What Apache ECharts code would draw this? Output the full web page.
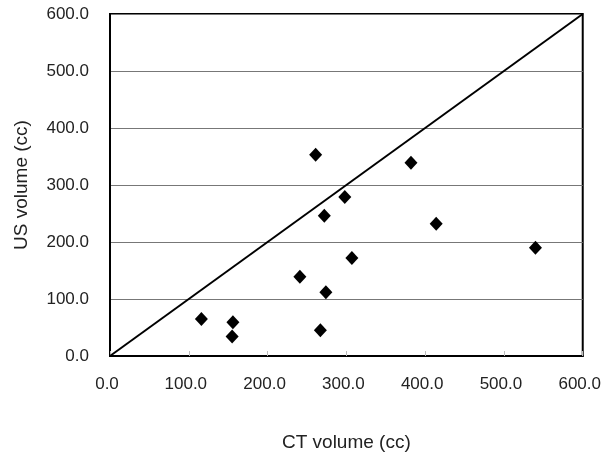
<!DOCTYPE html>
<html><head><meta charset="utf-8">
<script src="https://cdn.jsdelivr.net/npm/echarts@6/dist/echarts.min.js"></script>
<style>html,body{margin:0;padding:0;background:#fff}#c{width:604px;height:457px}</style>
</head><body><div id="c"></div>
<script>
var ctVolume = [116, 156, 155, 261, 382, 298, 272, 414, 307, 241, 274, 267, 540];
var usVolume = [65, 59, 34, 353, 339, 279, 246, 232, 172, 139, 112, 45, 190];
var identityLine = [[0, 0], [600, 600]];
var xName = 'CT volume (cc)';
var yName = 'US volume (cc)';

var pts = ctVolume.map(function (v, i) { return [v, usVolume[i]]; });
var font = 'Liberation Sans, Arial, sans-serif';
var chart = echarts.init(document.getElementById('c'), null, {renderer: 'canvas'});
chart.setOption({
  animation: false,
  backgroundColor: '#fff',
  grid: {left: 110, right: 21, top: 14, bottom: 99, show: true, borderColor: '#000', borderWidth: 2, containLabel: false},
  xAxis: {
    type: 'value', min: 0, max: 600, interval: 100,
    name: xName, nameLocation: 'middle', nameGap: 77,
    nameTextStyle: {fontFamily: font, fontSize: 19, color: '#222'},
    axisLine: {show: true, lineStyle: {color: '#000', width: 2}},
    axisTick: {show: true, inside: true, length: 5, lineStyle: {color: '#bbb'}},
    splitLine: {show: false},
    axisLabel: {margin: 20, padding: [0, 6, 0, 0], fontFamily: font, fontSize: 17, color: '#222', formatter: function (v) { return v.toFixed(1); }}
  },
  yAxis: {
    type: 'value', min: 0, max: 600, interval: 100,
    name: yName, nameLocation: 'middle', nameGap: 79,
    nameTextStyle: {fontFamily: font, fontSize: 19, color: '#222'},
    axisLine: {show: true, lineStyle: {color: '#000', width: 2}},
    axisTick: {show: false},
    splitLine: {show: true, lineStyle: {color: '#777', width: 1}},
    axisLabel: {margin: 21, padding: [4, 0, 0, 0], fontFamily: font, fontSize: 17, color: '#222', formatter: function (v) { return v.toFixed(1); }}
  },
  series: [
    {type: 'line', data: identityLine, symbol: 'none', lineStyle: {color: '#000', width: 2}, silent: true},
    {type: 'scatter', data: pts, symbol: 'diamond', symbolSize: [13, 14], itemStyle: {color: '#000', opacity: 1}}
  ]
});
</script></body></html>
